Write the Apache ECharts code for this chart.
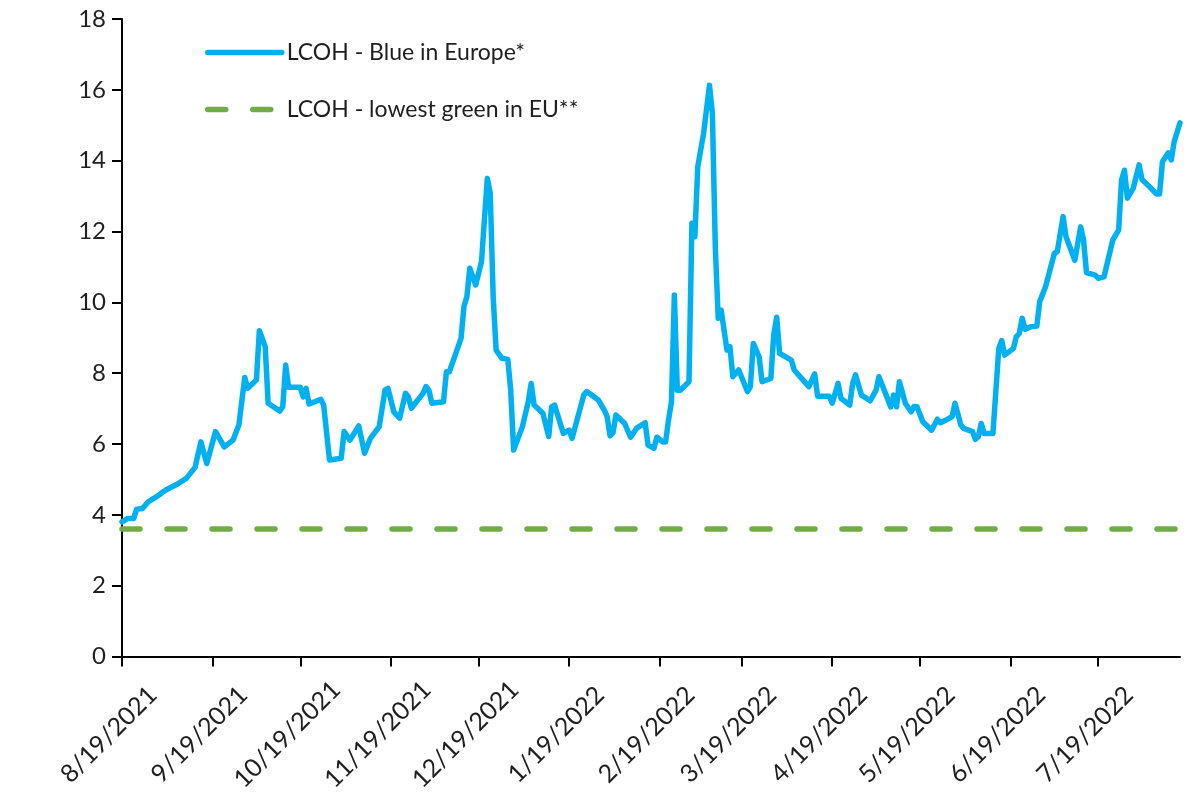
<!DOCTYPE html>
<html>
<head>
<meta charset="utf-8">
<script src="https://cdn.jsdelivr.net/npm/echarts@6/dist/echarts.min.js"></script>
<style>
  html, body { margin: 0; padding: 0; background: #fff; }
  #main { width: 1187px; height: 800px; }
</style>
</head>
<body>
<div id="main"></div>
<script>
// LCOH blue hydrogen in Europe
const dates = [
  '2021-08-19', '2021-08-21', '2021-08-23', '2021-08-24', '2021-08-26', '2021-08-28', '2021-08-30',
  '2021-09-01', '2021-09-02', '2021-09-03', '2021-09-07', '2021-09-10', '2021-09-13', '2021-09-15',
  '2021-09-17', '2021-09-20', '2021-09-23', '2021-09-26', '2021-09-28', '2021-09-30',
  '2021-10-01', '2021-10-04', '2021-10-05', '2021-10-07', '2021-10-08', '2021-10-12', '2021-10-13',
  '2021-10-14', '2021-10-15', '2021-10-19', '2021-10-20', '2021-10-21', '2021-10-22', '2021-10-26',
  '2021-10-27', '2021-10-29',
  '2021-11-02', '2021-11-03', '2021-11-05', '2021-11-08', '2021-11-10', '2021-11-12', '2021-11-15',
  '2021-11-17', '2021-11-18', '2021-11-20', '2021-11-22', '2021-11-24', '2021-11-25', '2021-11-26',
  '2021-11-30',
  '2021-12-01', '2021-12-02', '2021-12-03', '2021-12-07', '2021-12-08', '2021-12-09', '2021-12-13',
  '2021-12-14', '2021-12-15', '2021-12-16', '2021-12-18', '2021-12-20', '2021-12-22', '2021-12-23',
  '2021-12-24', '2021-12-25', '2021-12-27', '2021-12-29', '2021-12-30', '2021-12-31',
  '2022-01-03', '2022-01-05', '2022-01-06', '2022-01-07', '2022-01-10', '2022-01-12', '2022-01-13',
  '2022-01-14', '2022-01-17', '2022-01-19', '2022-01-20', '2022-01-24', '2022-01-25', '2022-01-29',
  '2022-01-31',
  '2022-02-01', '2022-02-02', '2022-02-03', '2022-02-04', '2022-02-07', '2022-02-09', '2022-02-11',
  '2022-02-14', '2022-02-15', '2022-02-17', '2022-02-18', '2022-02-20', '2022-02-21', '2022-02-22',
  '2022-02-23', '2022-02-24', '2022-02-25', '2022-02-26',
  '2022-03-01', '2022-03-02', '2022-03-03', '2022-03-04', '2022-03-06', '2022-03-08', '2022-03-09',
  '2022-03-10', '2022-03-11', '2022-03-12', '2022-03-14', '2022-03-15', '2022-03-16', '2022-03-18',
  '2022-03-21', '2022-03-22', '2022-03-23', '2022-03-25', '2022-03-26', '2022-03-29', '2022-03-30',
  '2022-03-31',
  '2022-04-01', '2022-04-05', '2022-04-06', '2022-04-11', '2022-04-13', '2022-04-14', '2022-04-18',
  '2022-04-19', '2022-04-21', '2022-04-22', '2022-04-25', '2022-04-26', '2022-04-27', '2022-04-29',
  '2022-05-02', '2022-05-04', '2022-05-05', '2022-05-09', '2022-05-10', '2022-05-11', '2022-05-12',
  '2022-05-14', '2022-05-16', '2022-05-17', '2022-05-18', '2022-05-20', '2022-05-23', '2022-05-25',
  '2022-05-26', '2022-05-28', '2022-05-30', '2022-05-31',
  '2022-06-02', '2022-06-03', '2022-06-06', '2022-06-07', '2022-06-08', '2022-06-09', '2022-06-10',
  '2022-06-13', '2022-06-15', '2022-06-16', '2022-06-17', '2022-06-20', '2022-06-21', '2022-06-22',
  '2022-06-23', '2022-06-24', '2022-06-26', '2022-06-28', '2022-06-29',
  '2022-07-01', '2022-07-04', '2022-07-05', '2022-07-07', '2022-07-08', '2022-07-11', '2022-07-13',
  '2022-07-14', '2022-07-15', '2022-07-18', '2022-07-19', '2022-07-21', '2022-07-24', '2022-07-26',
  '2022-07-27', '2022-07-28', '2022-07-29', '2022-07-31',
  '2022-08-02', '2022-08-03', '2022-08-05', '2022-08-08', '2022-08-09', '2022-08-10', '2022-08-12',
  '2022-08-13', '2022-08-14', '2022-08-16'
]

const blueValues = [
  3.8, 3.9, 3.9, 4.16, 4.18, 4.37, 4.47,
  4.58, 4.65, 4.7, 4.87, 5.03, 5.34, 6.06,
  5.45, 6.35, 5.92, 6.11, 6.54, 7.88,
  7.57, 7.81, 9.2, 8.75, 7.15, 6.93, 7.05,
  8.23, 7.6, 7.6, 7.33, 7.57, 7.13, 7.26,
  7.1, 5.55,
  5.6, 6.35, 6.11, 6.51, 5.74, 6.16, 6.49,
  7.52, 7.57, 6.91, 6.73, 7.43, 7.33, 7.01,
  7.43,
  7.62, 7.52, 7.15, 7.19, 8.04, 8.04, 8.98,
  9.88, 10.16, 10.96, 10.49, 11.15, 13.5, 13.08,
  10.16, 8.65, 8.42, 8.39, 7.52, 5.83,
  6.49, 7.19, 7.71, 7.1, 6.87, 6.21, 7.05,
  7.1, 6.3, 6.39, 6.16, 7.38, 7.48, 7.24,
  6.96,
  6.77, 6.23, 6.32, 6.82, 6.58, 6.19, 6.44,
  6.6, 5.97, 5.88, 6.19, 6.06, 6.06, 6.68,
  7.19, 10.21, 7.52, 7.52,
  7.76, 12.23, 11.85, 13.83, 14.77, 16.13, 15.34,
  11.57, 9.55, 9.78, 8.65, 8.75, 7.9, 8.09,
  7.48, 7.62, 8.84, 8.46, 7.76, 7.85, 9.08,
  9.58,
  8.56, 8.37, 8.09, 7.62, 7.98, 7.35, 7.35,
  7.15, 7.71, 7.29, 7.1, 7.71, 7.95, 7.38,
  7.22, 7.52, 7.9, 7.05, 7.38, 7.05, 7.76,
  7.15, 6.91, 7.06, 7.05, 6.63, 6.39, 6.7,
  6.6, 6.68, 6.77, 7.15,
  6.54, 6.44, 6.35, 6.13, 6.21, 6.58, 6.3,
  6.3, 8.7, 8.92, 8.51, 8.7, 9.03, 9.12,
  9.55, 9.24, 9.31, 9.33, 10.02,
  10.44, 11.38, 11.43, 12.42, 11.85, 11.19, 12.13,
  11.76, 10.84, 10.77, 10.68, 10.72, 11.76, 12.04,
  13.45, 13.73, 12.94, 13.22,
  13.88, 13.47, 13.31, 13.06, 13.06, 13.97, 14.22,
  14.02, 14.53, 15.07
]

const lowestGreen = 3.6

const tickDates = [
  '2021-08-19', '2021-09-19', '2021-10-19', '2021-11-19', '2021-12-19', '2022-01-19',
  '2022-02-19', '2022-03-19', '2022-04-19', '2022-05-19', '2022-06-19', '2022-07-19'
]

const yTicks = [0, 2, 4, 6, 8, 10, 12, 14, 16, 18]

const seriesNames = ['LCOH - Blue in Europe*', 'LCOH - lowest green in EU**']

function toTime(s) {
  return +new Date(s + 'T00:00:00')
}

const startTime = toTime(dates[0])
const endTime = toTime(dates[dates.length - 1])
const tickTimes = tickDates.map(toTime)

const fontFamily = 'Lato, "Open Sans", sans-serif'
const textColor = '#1f1f1f'

const chart = echarts.init(document.getElementById('main'))

chart.setOption({
  animation: false,
  backgroundColor: '#fff',
  textStyle: { fontFamily: fontFamily },
  grid: {
    left: 122,
    top: 19,
    right: 7,
    bottom: 143.5,
    containLabel: false,
    outerBoundsMode: 'none'
  },
  legend: {
    orient: 'vertical',
    left: 205,
    top: 41,
    padding: 0,
    itemWidth: 74,
    itemHeight: 24,
    itemGap: 34,
    textStyle: { fontSize: 23, color: textColor, fontFamily: fontFamily },
    lineStyle: { width: 5.5 },
    itemStyle: { opacity: 0 },
    data: seriesNames
  },
  xAxis: {
    type: 'value',
    min: startTime,
    max: endTime,
    splitLine: { show: false },
    axisLine: { lineStyle: { color: '#000', width: 2 } },
    axisTick: {
      show: true,
      length: 10,
      lineStyle: { color: '#000', width: 2 },
      customValues: tickTimes
    },
    axisLabel: {
      customValues: tickTimes,
      rotate: 45,
      align: 'center',
      verticalAlign: 'middle',
      padding: [0, 37, 0, 0],
      margin: 65,
      fontSize: 25,
      color: textColor,
      hideOverlap: false,
      formatter: function (value) {
        const d = new Date(value)
        return (d.getMonth() + 1) + '/' + d.getDate() + '/' + d.getFullYear()
      }
    }
  },
  yAxis: {
    type: 'value',
    min: yTicks[0],
    max: yTicks[yTicks.length - 1],
    interval: 2,
    splitLine: { show: false },
    axisLine: { show: true, lineStyle: { color: '#000', width: 2 } },
    axisTick: { show: true, length: 10, lineStyle: { color: '#000', width: 2 } },
    axisLabel: { fontSize: 24, color: textColor, margin: 16 }
  },
  series: [
    {
      name: seriesNames[0],
      type: 'line',
      symbol: 'none',
      z: 3,
      lineStyle: { color: '#00B0F0', width: 5.5, join: 'round', cap: 'round' },
      itemStyle: { color: '#00B0F0' },
      data: dates.map((d, i) => [toTime(d), blueValues[i]])
    },
    {
      name: seriesNames[1],
      type: 'line',
      symbol: 'none',
      z: 2,
      lineStyle: { color: '#70AD47', width: 5.5, type: [18, 27], cap: 'round' },
      itemStyle: { color: '#70AD47' },
      data: [[startTime, lowestGreen], [endTime, lowestGreen]]
    }
  ]
})
</script>
</body>
</html>
